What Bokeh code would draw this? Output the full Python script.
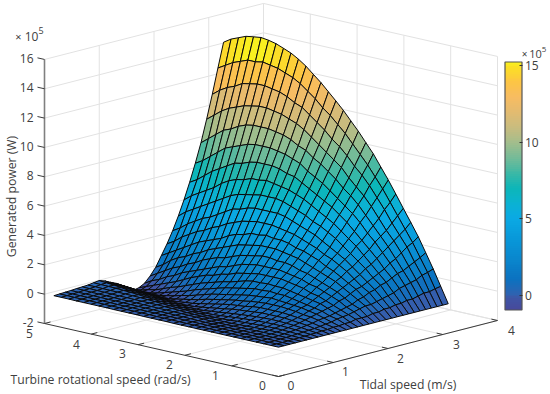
import numpy as np
from bokeh.plotting import figure
from bokeh.models import Range1d, LinearColorMapper, ColorBar, FixedTicker, ColumnDataSource
from bokeh.core.properties import value
from bokeh.embed import file_html
from bokeh.resources import INLINE

# --- data ---
tidal_speed = np.linspace(0, 3.1, 31)
turbine_speed = np.linspace(0, 4.8, 31)
z_ticks = [-2, 0, 2, 4, 6, 8, 10, 12, 14, 16]
turbine_ticks = [0, 1, 2, 3, 4, 5]
tidal_ticks = [0, 1, 2, 3, 4]
cbar_ticks = [0, 5, 10, 15]
cbar_low, cbar_high = -0.98, 15.26

# generated power (x 1e5 W): one row per tidal speed, one column per turbine speed
P00 = [0,0,0,0,0,0,0,0,0,0,0,0,0,0,0,.01,.01,.01,.01,.02,.02,.02,.02,.03,.03,.03,.03,.03,.04,.04,.04]
P01 = [0,0,0,.01,.01,.01,0,0,0,0,0,.01,.01,.01,.01,.02,.02,.02,.03,.03,.03,.03,.04,.04,.04,.05,.05,.05,.05,.06,.06]
P02 = [0,0,.01,.01,.01,.01,0,0,0,0,.01,.01,.02,.02,.02,.03,.03,.03,.04,.04,.04,.05,.05,.05,.06,.06,.06,.07,.07,.07,.08]
P03 = [0,.01,.02,.02,.02,.01,.01,0,-.01,-.01,-.01,0,0,.01,.02,.03,.03,.04,.04,.05,.05,.05,.06,.06,.07,.07,.08,.08,.09,.09,.1]
P04 = [0,.02,.03,.04,.035,.03,.02,.01,0,-.01,-.02,-.02,-.02,.01,.025,.035,.04,.045,.05,.055,.06,.065,.07,.075,.08,.085,.09,.1,.11,.12,.13]
P05 = [0,.03,.05,.06,.07,.07,.05,.035,.01,-.01,-.03,-.04,-.035,-.03,-.015,0,.01,.035,.06,.07,.08,.08,.09,.09,.1,.1,.11,.12,.13,.14,.15]
P06 = [0,.04,.07,.1,.11,.12,.11,.09,.07,.04,.01,-.03,-.06,-.07,-.07,-.05,-.04,-.02,0,.02,.05,.08,.1,.12,.13,.14,.15,.15,.16,.17,.17]
P07 = [0,.06,.1,.14,.17,.19,.19,.18,.16,.13,.09,.05,0,-.05,-.09,-.11,-.11,-.09,-.08,-.06,-.03,-.01,.03,.06,.11,.15,.17,.2,.21,.22,.23]
P08 = [0,.07,.13,.19,.23,.26,.28,.29,.27,.24,.2,.15,.1,.04,-.03,-.08,-.14,-.17,-.17,-.15,-.13,-.1,-.07,-.05,-.01,.03,.07,.14,.2,.24,.28]
P09 = [0,.1,.15,.25,.3,.35,.4,.4,.4,.4,.35,.3,.25,.2,.1,.03,-.05,-.13,-.2,-.24,-.25,-.22,-.2,-.17,-.13,-.1,-.06,-.01,.04,.09,.16]
P10 = [0,.1,.2,.3,.4,.45,.5,.55,.55,.55,.55,.5,.4,.35,.3,.2,.1,0,-.1,-.2,-.25,-.32,-.34,-.32,-.29,-.25,-.22,-.17,-.12,-.08,-.03]
P11 = [0,.15,.25,.4,.5,.55,.65,.7,.75,.75,.75,.7,.65,.55,.5,.4,.3,.2,.1,-.05,-.15,-.25,-.35,-.43,-.46,-.44,-.4,-.35,-.3,-.26,-.2]
P12 = [0,.15,.3,.45,.6,.7,.8,.85,.9,.95,1.0,.95,.9,.85,.75,.65,.55,.45,.35,.2,.05,-.1,-.2,-.35,-.45,-.55,-.58,-.57,-.53,-.48,-.43]
P13 = [0,.2,.4,.5,.7,.8,.9,1.0,1.1,1.2,1.2,1.25,1.2,1.2,1.1,1.0,.9,.8,.65,.5,.35,.2,0,-.15,-.3,-.45,-.6,-.7,-.73,-.73,-.7]
P14 = [0,.2,.45,.6,.8,1.0,1.1,1.2,1.3,1.4,1.5,1.5,1.55,1.5,1.5,1.4,1.25,1.1,1.0,.85,.7,.55,.35,.15,-.05,-.2,-.4,-.6,-.7,-.85,-.98]
P15 = [0,.3,.5,.7,.9,1.1,1.3,1.4,1.6,1.7,1.8,1.9,1.9,1.9,1.9,1.8,1.7,1.6,1.4,1.3,1.1,1.0,.8,.6,.35,.1,-.1,-.3,-.5,-.7,-.9]
P16 = [0,.3,.6,.8,1.1,1.3,1.5,1.7,1.8,2.0,2.1,2.2,2.3,2.3,2.3,2.3,2.2,2.1,1.9,1.7,1.6,1.4,1.2,1.0,.8,.6,.3,.1,-.2,-.4,-.7]
P17 = [0,.3,.7,.9,1.2,1.5,1.7,1.9,2.1,2.3,2.4,2.6,2.7,2.7,2.8,2.8,2.7,2.6,2.5,2.3,2.1,2.0,1.8,1.6,1.3,1.1,.8,.6,.3,0,-.3]
P18 = [0,.4,.8,1.1,1.4,1.7,2.0,2.2,2.4,2.6,2.8,3.0,3.1,3.2,3.3,3.3,3.3,3.2,3.1,3.0,2.8,2.6,2.4,2.2,1.9,1.7,1.4,1.2,.9,.5,.2]
P19 = [0,.4,.8,1.2,1.6,1.9,2.2,2.5,2.7,3.0,3.2,3.4,3.5,3.7,3.8,3.8,3.9,3.8,3.8,3.6,3.5,3.3,3.0,2.8,2.6,2.4,2.1,1.8,1.5,1.2,.9]
P20 = [0,.5,.9,1.4,1.7,2.1,2.5,2.8,3.1,3.3,3.6,3.8,4.0,4.2,4.3,4.4,4.5,4.5,4.5,4.4,4.3,4.1,3.9,3.6,3.4,3.1,2.9,2.6,2.3,1.9,1.6]
P21 = [0,.5,1.0,1.5,1.9,2.3,2.7,3.1,3.4,3.7,4.0,4.3,4.5,4.7,4.9,5.1,5.2,5.2,5.2,5.2,5.1,4.9,4.8,4.5,4.2,3.9,3.7,3.4,3.1,2.7,2.4]
P22 = [0,.6,1.1,1.7,2.1,2.6,3.0,3.4,3.8,4.2,4.5,4.8,5.0,5.3,5.5,5.7,5.9,6.0,6.0,6.0,5.9,5.8,5.7,5.5,5.2,4.9,4.6,4.3,4.0,3.7,3.3]
P23 = [0,.6,1.2,1.8,2.3,2.8,3.3,3.8,4.2,4.6,5.0,5.3,5.6,5.9,6.2,6.4,6.6,6.7,6.8,6.9,6.8,6.8,6.6,6.5,6.3,6.0,5.6,5.3,5.0,4.7,4.3]
P24 = [0,.7,1.4,2.0,2.5,3.1,3.6,4.1,4.6,5.1,5.5,5.9,6.2,6.5,6.8,7.1,7.4,7.5,7.7,7.8,7.8,7.8,7.7,7.5,7.4,7.1,6.8,6.5,6.1,5.7,5.4]
P25 = [0,.7,1.5,2.2,2.8,3.4,4.0,4.5,5.1,5.6,6.0,6.4,6.8,7.2,7.5,7.8,8.2,8.4,8.6,8.7,8.8,8.8,8.8,8.7,8.5,8.3,8.1,7.7,7.3,6.9,6.6]
P26 = [0,.8,1.6,2.3,3.0,3.7,4.3,4.9,5.5,6.1,6.6,7.0,7.5,7.9,8.3,8.6,9.0,9.2,9.5,9.7,9.8,9.9,9.9,9.9,9.8,9.6,9.3,9.1,8.7,8.3,7.9]
P27 = [0,.9,1.7,2.5,3.3,4.0,4.6,5.3,6.0,6.6,7.1,7.6,8.2,8.6,9.0,9.4,9.8,10.2,10.5,10.7,10.9,11.0,11.1,11.1,11.0,10.9,10.7,10.5,10.2,9.8,9.4]
P28 = [0,.9,1.9,2.7,3.6,4.3,5.0,5.8,6.5,7.2,7.8,8.3,8.9,9.4,9.8,10.3,10.7,11.1,11.5,11.7,12.0,12.2,12.3,12.4,12.4,12.3,12.2,11.9,11.7,11.4,11.0]
P29 = [0,1.0,2.0,2.9,3.8,4.6,5.4,6.2,7.0,7.7,8.4,9.0,9.6,10.2,10.7,11.2,11.6,12.1,12.5,12.9,13.2,13.4,13.6,13.7,13.8,13.7,13.7,13.5,13.3,13.0,12.7]
P30 = [0,1.07,2.14,3.13,4.11,4.97,5.81,6.67,7.51,8.28,9.06,9.71,10.37,10.96,11.56,12.09,12.6,13.11,13.55,14.0,14.36,14.66,14.87,15.07,15.19,15.26,15.19,15.11,14.9,14.69,14.36]
power = np.array([P00,P01,P02,P03,P04,P05,P06,P07,P08,P09,P10,P11,P12,P13,P14,P15,
                  P16,P17,P18,P19,P20,P21,P22,P23,P24,P25,P26,P27,P28,P29,P30], dtype=float)

# --- orthographic view of the box ---
O = np.array([278.0, 376.0])
DT = np.array([54.75, -14.0])
DW = np.array([-46.8, -10.6])
DZ = -14.67
def proj(t, w, z):
    return (O[0] + t*DT[0] + w*DW[0], O[1] + t*DT[1] + w*DW[1] + (z + 2)*DZ)

# --- colour map ---
stops = [(-0.98,"#474a9c"),(-0.3,"#3f55a5"),(0,"#2f62b0"),(1,"#0b72c0"),(2,"#0a82ca"),(3.5,"#0896d8"),
         (5,"#0aa9e4"),(6,"#0bb2d2"),(7,"#0cb6b8"),(8,"#3db8a5"),(9,"#74bb98"),(10,"#a3bd8c"),
         (11,"#c8bc7f"),(12,"#e3bb70"),(13,"#f7bc62"),(14,"#fdc544"),(15,"#fbe024"),(15.26,"#f9f020")]
zs = [s[0] for s in stops]
rgb = np.array([[int(s[1][k:k+2],16) for k in (1,3,5)] for s in stops], float)
lv = np.linspace(cbar_low, cbar_high, 128)
palette = ["#%02x%02x%02x" % tuple(int(round(np.interp(v, zs, rgb[:,c]))) for c in range(3)) for v in lv]
mapper = LinearColorMapper(palette=palette, low=cbar_low, high=cbar_high)

p = figure(width=550, height=394, output_backend="svg", toolbar_location=None,
           x_range=Range1d(0,550), y_range=Range1d(394,0), min_border=0,
           outline_line_color=None, margin=(0,0,0,0))
p.axis.visible = False
p.grid.visible = False

# walls and floor grid
gx0,gy0,gx1,gy1 = [],[],[],[]
def seg(a,b):
    gx0.append(a[0]); gy0.append(a[1]); gx1.append(b[0]); gy1.append(b[1])
for z in z_ticks:
    seg(proj(0,5,z), proj(4,5,z))
    seg(proj(4,5,z), proj(4,0,z))
for t in tidal_ticks[1:]:
    seg(proj(t,5,-2), proj(t,5,16))
    seg(proj(t,0,-2), proj(t,5,-2))
for w in turbine_ticks[:-1]:
    seg(proj(4,w,-2), proj(4,w,16))
    seg(proj(0,w,-2), proj(4,w,-2))
p.segment(gx0,gy0,gx1,gy1,line_color="#e2e2e2",line_width=1)

# surface, far cells first
xs,ys,cs = [],[],[]
nt,nw = power.shape
for j in range(nt-2,-1,-1):
    for i in range(nw-2,-1,-1):
        corners = [(j,i),(j+1,i),(j+1,i+1),(j,i+1)]
        pts = [proj(tidal_speed[a],turbine_speed[b],power[a,b]) for a,b in corners]
        xs.append([q[0] for q in pts]); ys.append([q[1] for q in pts])
        cs.append(power[j+1,i])
p.patches("xs","ys",source=ColumnDataSource(dict(xs=xs,ys=ys,c=cs)),
          fill_color={"field":"c","transform":mapper},line_color="#0a0a0a",line_width=1.0)

# axes
ax0 = proj(0,5,-2); ax1 = proj(0,5,16)
p.segment([ax0[0]],[ax0[1]],[ax1[0]],[ax1[1]],line_color="#808080",line_width=1.6)
a = proj(0,5,-2); b = proj(0,0,-2); c = proj(4,0,-2)
p.line([a[0],b[0],c[0]],[a[1],b[1],c[1]],line_color="#3a3a3a",line_width=1)
tx0,ty0,tx1,ty1 = [],[],[],[]
for z in z_ticks:
    q,r = proj(0,5,z),proj(0,5.15,z); tx0.append(q[0]);ty0.append(q[1]);tx1.append(r[0]);ty1.append(r[1])
for w in turbine_ticks:
    q,r = proj(0,w,-2),proj(.11,w,-2); tx0.append(q[0]);ty0.append(q[1]);tx1.append(r[0]);ty1.append(r[1])
for t in tidal_ticks:
    q,r = proj(t,0,-2),proj(t,.13,-2); tx0.append(q[0]);ty0.append(q[1]);tx1.append(r[0]);ty1.append(r[1])
p.segment(tx0,ty0,tx1,ty1,line_color="#3a3a3a",line_width=1)

FONT = value("Open Sans")
TC = "#404040"
def txt(x,y,s,size,align="center",base="middle",angle=0):
    p.text([x],[y],text=[s],text_font=FONT,text_font_size=size,text_color=TC,
           text_align=align,text_baseline=base,angle=angle)

for z in z_ticks:
    q = proj(0,5,z); txt(33,q[1]-1,str(z),"12px","right")
turb_lab = [(262,385),(215,375),(169,364),(122,353),(76,344),(29,333)]
for w,(x,y) in zip(turbine_ticks,turb_lab):
    txt(x,y,str(w),"12px")
tid_lab = [(290.5,385),(345,371),(400,358),(456,344),(511,330)]
for t,(x,y) in zip(tidal_ticks,tid_lab):
    txt(x,y,str(t),"12px")

txt(18,36,"\u00d7","11px"); txt(31,36,"10","12px"); txt(40.5,30,"5","9px")
txt(524,53.5,"\u00d7","10px"); txt(535,53.5,"10","11px"); txt(543.5,49,"5","8px")
txt(100,378.7,"Turbine rotational speed (rad/s)","12.2px")
txt(407.5,383.7,"Tidal speed (m/s)","12.2px")
txt(10.5,196,"Generated power (W)","12.2px",angle=np.pi/2)

# colour bar
cb = ColorBar(color_mapper=mapper, ticker=FixedTicker(ticks=cbar_ticks),
              width=17, height=248, location=(504.5,84.5), padding=0, margin=0,
              major_label_text_font="Open Sans", major_label_text_font_size="12px",
              major_label_text_color=TC, major_tick_in=3, major_tick_out=0,
              major_tick_line_color="#333333", minor_tick_line_color=None,
              bar_line_color="#555555", bar_line_width=1.2, label_standoff=3,
              background_fill_color=None, border_line_color=None)
p.add_layout(cb, "center")

open("out.html","w").write(file_html(p, INLINE))
